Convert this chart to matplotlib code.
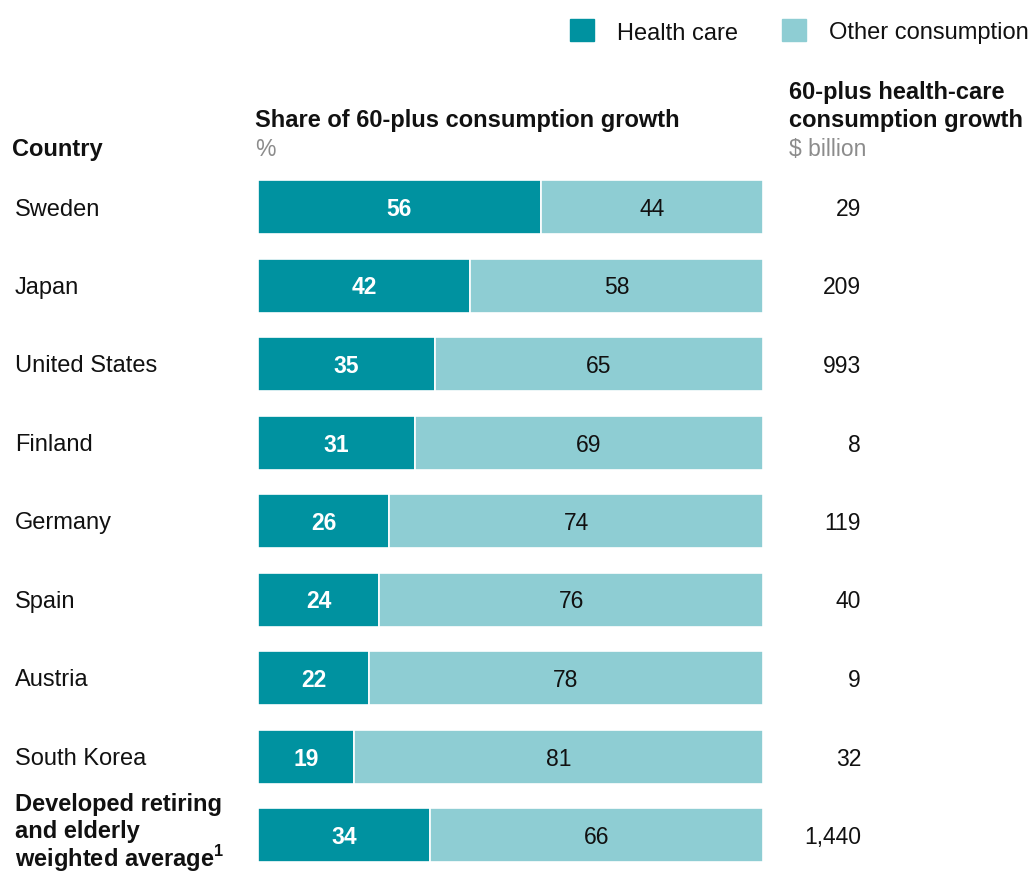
import matplotlib
matplotlib.use("Agg")
import matplotlib.pyplot as plt
from matplotlib.transforms import blended_transform_factory
from matplotlib.patches import Rectangle

plt.rcParams['font.family'] = ['Liberation Sans', 'DejaVu Sans']
plt.rcParams['mathtext.fontset'] = 'custom'
plt.rcParams['mathtext.rm'] = 'Liberation Sans'
plt.rcParams['mathtext.bf'] = 'Liberation Sans:bold'

countries = ["Sweden", "Japan", "United States", "Finland", "Germany", "Spain",
             "Austria", "South Korea"]
avg_label_lines = ["Developed retiring", "and elderly",
                   "weighted average$^{\\mathbf{1}}$"]
health_care = [56, 42, 35, 31, 26, 24, 22, 19, 34]
other_consumption = [44, 58, 65, 69, 74, 76, 78, 81, 66]
growth_labels = ["29", "209", "993", "8", "119", "40", "9", "32", "1,440"]

C_HEALTH = "#0092a0"
C_OTHER = "#8ecdd3"
TXT = "#111111"
W, H = 1035, 877
fig = plt.figure(figsize=(W / 100, H / 100), dpi=100)

def fx(px):
    return px / W

def fy(py):
    return 1 - py / H

n = len(health_care)
sp = (835 - 207) / 8
top = 207 - sp / 2
bot = 835 + sp / 2
ax = fig.add_axes([fx(258), fy(bot), fx(763) - fx(258), (bot - top) / H])
ax.set_xlim(0, 100)
ax.set_ylim(n - 0.5, -0.5)
ax.axis('off')

y = list(range(n))
bh = 54 / sp
ax.barh(y, health_care, height=bh, color=C_HEALTH, edgecolor='white', linewidth=1.2)
ax.barh(y, other_consumption, left=health_care, height=bh, color=C_OTHER,
        edgecolor='white', linewidth=1.2)

for i, (h, o) in enumerate(zip(health_care, other_consumption)):
    ax.text(h / 2, i, str(h), ha='center', va='center_baseline', color='white',
            fontsize=16.5, fontweight='bold')
    ax.text(h + o / 2, i, str(o), ha='center', va='center_baseline', color=TXT,
            fontsize=16.5)

tr = blended_transform_factory(fig.transFigure, ax.transData)
for i, c in enumerate(countries):
    ax.text(fx(15), i, c, transform=tr, ha='left', va='center_baseline',
            fontsize=17, color=TXT)
for k, (line, off) in enumerate(zip(avg_label_lines, [-33, -6, 20])):
    ax.text(fx(15), n - 1 + off / sp, line, transform=tr, ha='left',
            va='center_baseline', fontsize=17, fontweight='bold', color=TXT)
for i in range(n):
    ax.text(fx(861), i, growth_labels[i], transform=tr, ha='right',
            va='center_baseline', fontsize=16.5, color=TXT)

# headers
HF = 17
fig.text(fx(12), fy(147), "Country", ha='left', va='center_baseline', fontsize=HF,
         fontweight='bold', color=TXT)
fig.text(fx(255), fy(118), "Share of 60-plus consumption growth", ha='left',
         va='center_baseline', fontsize=HF, fontweight='bold', color=TXT)
fig.text(fx(255), fy(147), "%", ha='left', va='center_baseline', fontsize=16.5,
         color='#8c8c8c')
fig.text(fx(789), fy(90), "60-plus health-care", ha='left', va='center_baseline',
         fontsize=HF, fontweight='bold', color=TXT)
fig.text(fx(789), fy(118), "consumption growth", ha='left', va='center_baseline',
         fontsize=HF, fontweight='bold', color=TXT)
fig.text(fx(789), fy(147), "\\$ billion", ha='left', va='center_baseline',
         fontsize=16.5, color='#8c8c8c')

# legend
for x0, col, lab in [(570, C_HEALTH, "Health care"), (782, C_OTHER, "Other consumption")]:
    fig.patches.append(Rectangle((fx(x0), fy(41)), fx(24), 22 / H, color=col,
                                 transform=fig.transFigure, figure=fig))
    fig.text(fx(x0 + 47), fy(31), lab, ha='left', va='center_baseline', fontsize=17,
             color=TXT)

fig.savefig("out.png", dpi=100, facecolor='white')
